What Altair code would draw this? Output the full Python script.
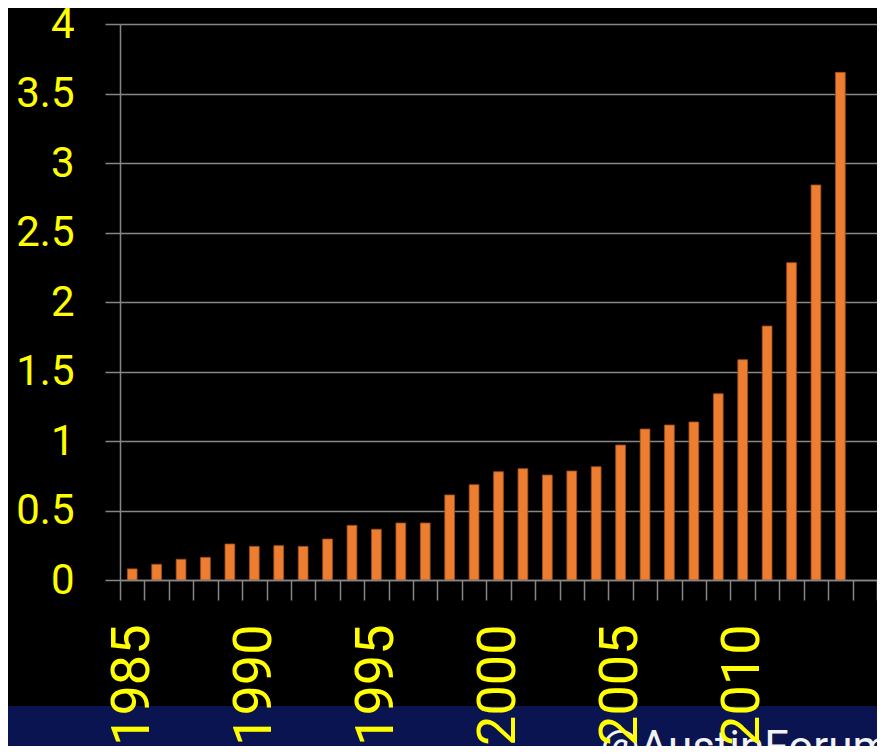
import altair as alt
import pandas as pd

years = [1985, 1986, 1987, 1988, 1989, 1990, 1991, 1992, 1993, 1994,
         1995, 1996, 1997, 1998, 1999, 2000, 2001, 2002, 2003, 2004,
         2005, 2006, 2007, 2008, 2009, 2010, 2011, 2012, 2013, 2014]
values = [0.08, 0.113, 0.149, 0.163, 0.259, 0.242, 0.247, 0.242, 0.295, 0.393,
          0.365, 0.41, 0.41, 0.612, 0.686, 0.779, 0.801, 0.755, 0.784, 0.815,
          0.971, 1.086, 1.115, 1.137, 1.34, 1.585, 1.827, 2.283, 2.842, 3.652]
x_domain = years + [2015]
y_ticks = [0, 0.5, 1, 1.5, 2, 2.5, 3, 3.5, 4]
footer_text = "@AustinForum"

df = pd.DataFrame({"year": years, "value": values})

W, H = 757, 556
GREY = "#868686"
YELLOW = "#FFFF00"
FONT = "Roboto"

band = alt.Chart(pd.DataFrame({"a": [0]})).mark_rect(color="#0A1450").encode(
    x=alt.value(-112), x2=alt.value(W + 20),
    y=alt.value(682), y2=alt.value(730),
)

footer = alt.Chart(pd.DataFrame({"t": [footer_text]})).mark_text(
    align="left", baseline="alphabetic", font=FONT, fontSize=44, color="#F2F2F2"
).encode(
    x=alt.value(480), y=alt.value(738), text="t:N"
)

bars = alt.Chart(df).mark_bar(
    color="#ED7D31", stroke="#9E4F17", strokeWidth=0.8, width={"band": 0.4}
).encode(
    x=alt.X("year:O", scale=alt.Scale(domain=x_domain, paddingInner=0, paddingOuter=0),
            axis=alt.Axis(title=None, labelAngle=270, labelFontSize=54, labelFont=FONT,
                          labelColor=YELLOW, labelPadding=24, tickSize=20, tickColor=GREY,
                          tickWidth=1.5, domainColor=GREY, domainWidth=1.5, tickBand="extent",
                          labelOverlap=False, grid=False, zindex=1,
                          labelExpr="(datum.value % 5 == 0 && datum.value <= 2010) ? datum.label : ''")),
    y=alt.Y("value:Q", scale=alt.Scale(domain=[0, 4], nice=False),
            axis=alt.Axis(title=None, values=y_ticks, format="~g", labelFontSize=42,
                          labelFont=FONT, labelColor=YELLOW, labelPadding=31, tickSize=15,
                          tickColor=GREY, tickWidth=1.5, domainColor=GREY, domainWidth=1.5,
                          gridColor=GREY, gridWidth=1.5, grid=True)),
)

chart = alt.layer(band, footer, bars).properties(
    width=W, height=H,
    background="black",
    autosize=alt.AutoSizeParams(type="none"),
    padding={"left": 112, "top": 16, "right": 0, "bottom": 166},
).configure_view(strokeWidth=0)

chart.save("out.html", embed_options={"renderer": "svg", "actions": False})
